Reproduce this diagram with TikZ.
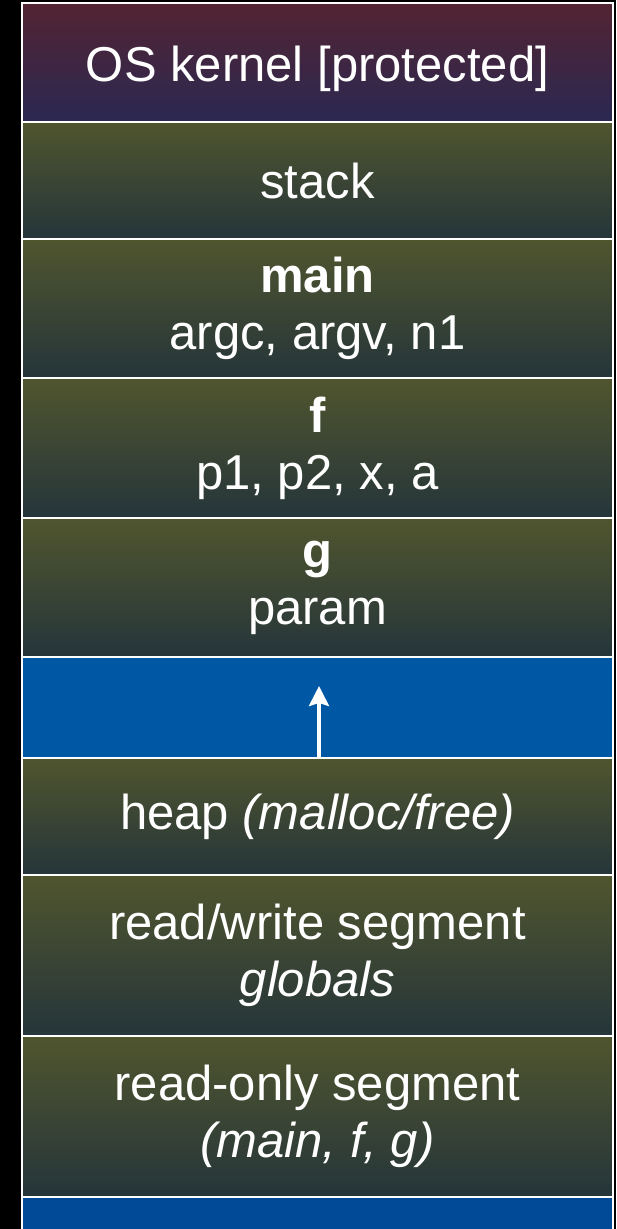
\documentclass[tikz,border=0pt]{standalone}
\usepackage{fontspec}
\setmainfont{Liberation Sans}
\usetikzlibrary{arrows.meta,shadings}
\definecolor{olivetop}{RGB}{80,85,46}
\definecolor{olivebot}{RGB}{37,53,58}
\definecolor{kerntop}{RGB}{83,36,50}
\definecolor{kernbot}{RGB}{42,40,82}
\definecolor{gapblue}{RGB}{0,88,165}
\definecolor{botblue}{RGB}{0,74,152}
\tikzset{
  seg/.style={draw=white, line width=1pt, minimum width=295.5pt, inner sep=0pt,
    text=white, align=center, font=\fontsize{24.5}{28.5}\selectfont},
  olive/.style={seg, top color=olivetop, bottom color=olivebot},
  kern/.style={seg, top color=kerntop, bottom color=kernbot},
  growarrow/.style={draw=white, line width=1.8pt, -{Stealth[length=10pt, width=10pt, inset=1.5pt]}}
}
\begin{document}
\begin{tikzpicture}[x=0.5pt, y=-0.5pt]
\fill[black] (0,0) rectangle (616,1229);
\useasboundingbox (0,0) rectangle (616,1229);
\clip (0,0) rectangle (616,1229);
\node[kern, minimum height=59.5pt] (kernel) at (317.5,62.5) {};
\node[text=white, font=\fontsize{24.5}{28.5}\selectfont, anchor=base] (kerneltext) at (317.5,82) {OS kernel [protected]};
\node[olive, minimum height=58.5pt] (stack) at (317.5,180.5) {stack};
\node[olive, minimum height=69.5pt] (main) at (317.5,308.5) {\textbf{main}\\argc, argv, n1};
\node[olive, minimum height=70pt] (f) at (317.5,448) {\textbf{f}\\p1, p2, x, a};
\node[olive, minimum height=69.5pt] (g) at (317.5,587.5) {\textbf{g}\\param};
\node[seg, fill=gapblue, minimum height=50.5pt] (gap) at (317.5,707.5) {};
\node[olive, minimum height=58.5pt] (heap) at (317.5,816.5) {heap \textit{(malloc/free)}};
\node[olive, minimum height=80.5pt] (rw) at (317.5,955.5) {read/write segment\\\textit{globals}};
\node[olive, minimum height=80.5pt] (ro) at (317.5,1116.5) {read-only segment\\\textit{(main, f, g)}};
\node[seg, fill=botblue, minimum height=31.5pt] (bottom) at (317.5,1228.5) {};
\coordinate (tip) at (319,686);
\draw[growarrow] (tip |- heap.north) -- (tip);
\end{tikzpicture}
\end{document}
